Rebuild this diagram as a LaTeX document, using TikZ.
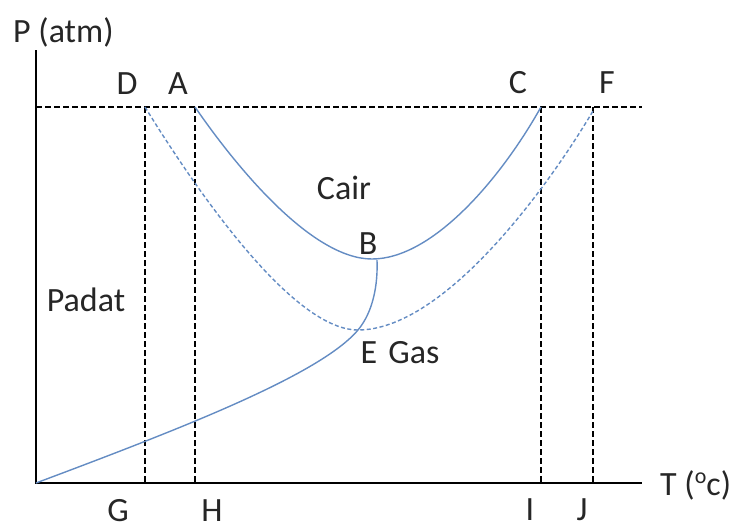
\documentclass[tikz,border=0pt]{standalone}
\usepackage{fontspec}
\setmainfont{Carlito}
\definecolor{curveblue}{RGB}{100,140,195}
\begin{document}
\begin{tikzpicture}[x=1pt,y=-1pt,
  lbl/.style={font=\fontsize{34}{40}\selectfont, text=black!85, inner sep=0pt},
  axisline/.style={line width=2.2pt, black},
  guide/.style={line width=1.6pt, black, dash pattern=on 6pt off 3pt},
  solidcurve/.style={line width=1.4pt, curveblue},
  dashcurve/.style={line width=1.4pt, curveblue, dash pattern=on 4pt off 2.5pt}]
\useasboundingbox (0,0) rectangle (740,530);
% key points
\coordinate (O) at (36,483);
\coordinate (Ytop) at (36,50);
\coordinate (Xend) at (642,483);
\coordinate (Lstart) at (36,107);
\coordinate (Lend) at (642,107);
\coordinate (Dp) at (145,107);
\coordinate (Ap) at (195,107);
\coordinate (Cp) at (541,107);
\coordinate (Fp) at (593,111);
\coordinate (Ft) at (593,107);
\coordinate (Gp) at (145,483);
\coordinate (Hp) at (195,483);
\coordinate (Ip) at (541,483);
\coordinate (Jp) at (593,483);
\coordinate (Bp) at (372,259);
\coordinate (Ep) at (358,330);
\coordinate (Bj) at (377,260);
% guides
\draw[guide] (Lstart) -- (Lend);
\draw[guide] (Dp) -- (Gp);
\draw[guide] (Ap) -- (Hp);
\draw[guide] (Cp) -- (Ip);
\draw[guide] (Ft) -- (Jp);
% axes
\draw[axisline] (Ytop) -- (O) -- (Xend);
% curves
\draw[solidcurve] (Ap) .. controls (237,168) and (312,259) .. (Bp)
  .. controls (432,259) and (500,180) .. (Cp);
\draw[dashcurve] (Dp) .. controls (190,180) and (290,330) .. (Ep)
  .. controls (440,330) and (540,200) .. (Fp);
\draw[solidcurve] (O) .. controls (180,429) and (320,375) .. (Ep)
  .. controls (373,312) and (378,285) .. (Bj);
% labels
\node[lbl, anchor=west] (Plab) at (13,32) {P (atm)};
\node[lbl] (Dlab) at (127,84) {D};
\node[lbl] (Alab) at (178,84) {A};
\node[lbl] (Clab) at (518,83) {C};
\node[lbl] (Flab) at (607,83) {F};
\node[lbl] (Cair) at (344,188) {Cair};
\node[lbl] (Blab) at (368,244) {B};
\node[lbl] (Padat) at (86,300) {Padat};
\node[lbl] (Elab) at (369,353) {E};
\node[lbl] (Gas) at (414,353) {Gas};
\node[lbl] (Glab) at (118,511) {G};
\node[lbl] (Hlab) at (212,511) {H};
\node[lbl] (Ilab) at (530,510) {I};
\node[lbl] (Jlab) at (582,510) {J};
\node[lbl, anchor=west] (Tlab) at (660,485) {T (\raisebox{0.7ex}{\fontsize{22}{26}\selectfont o}c)};
\end{tikzpicture}
\end{document}
